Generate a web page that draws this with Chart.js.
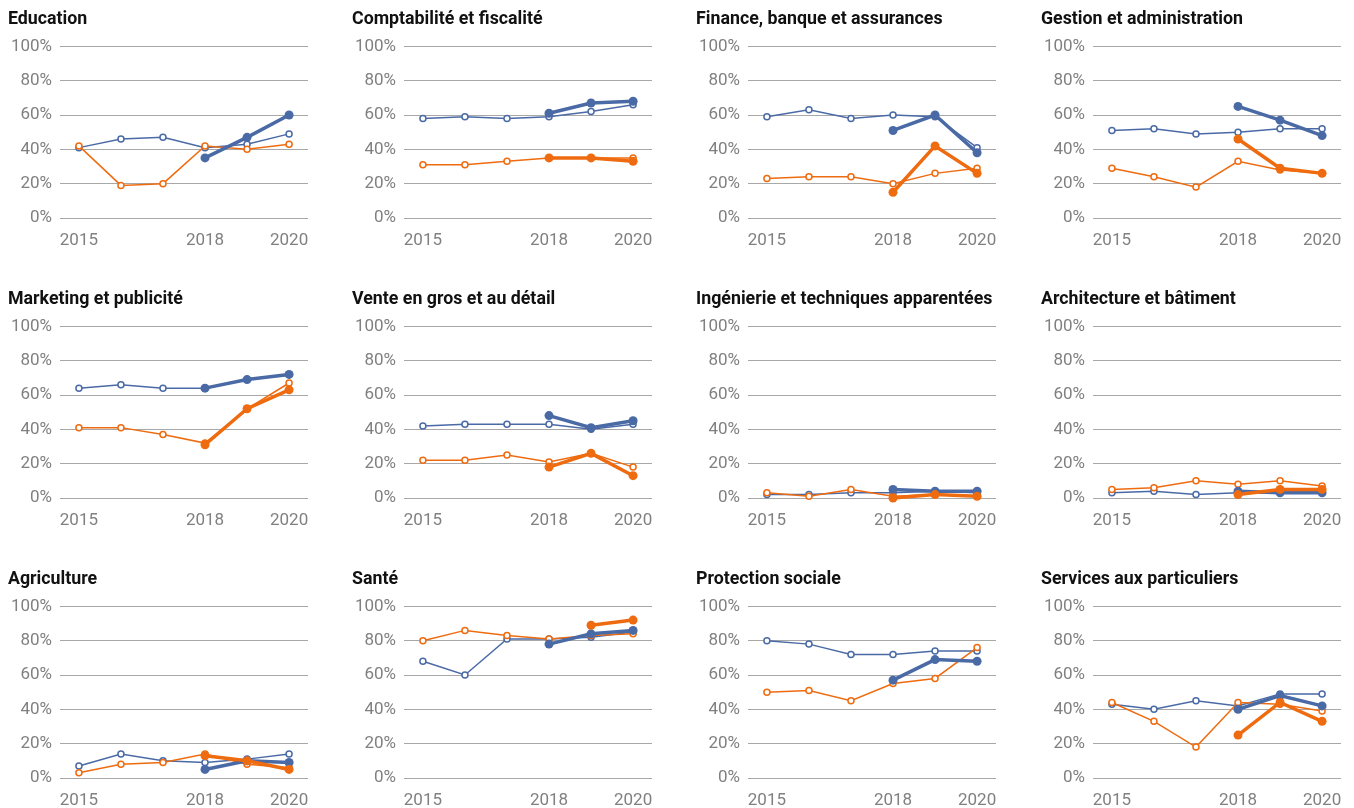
<!DOCTYPE html>
<html>
<head>
<meta charset="utf-8">
<script src="https://cdn.jsdelivr.net/npm/chart.js@4/dist/chart.umd.min.js"></script>
<style>
  html, body { margin: 0; padding: 0; background: #fff; width: 1354px; height: 808px; overflow: hidden; }
  canvas { position: absolute; }
</style>
</head>
<body>
<script>
const titles = [
  "Education", "Comptabilité et fiscalité", "Finance, banque et assurances", "Gestion et administration",
  "Marketing et publicité", "Vente en gros et au détail", "Ingénierie et techniques apparentées", "Architecture et bâtiment",
  "Agriculture", "Santé", "Protection sociale", "Services aux particuliers"
];
const years = [2015, 2016, 2017, 2018, 2019, 2020];
const tickYears = [2015, 2018, 2020];
const yTicks = [0, 20, 40, 60, 80, 100];

// thin series 2015-2020
const blueThin = [
  [41, 46, 47, 41, 43, 49],
  [58, 59, 58, 59, 62, 66],
  [59, 63, 58, 60, 59, 41],
  [51, 52, 49, 50, 52, 52],
  [64, 66, 64, 64, 69, 72],
  [42, 43, 43, 43, 40, 43],
  [2, 2, 3, 3, 4, 3],
  [3, 4, 2, 3, 3, 3],
  [7, 14, 10, 9, 11, 14],
  [68, 60, 81, 81, 82, 85],
  [80, 78, 72, 72, 74, 74],
  [43, 40, 45, 42, 49, 49]
];
const orangeThin = [
  [42, 19, 20, 42, 40, 43],
  [31, 31, 33, 35, 35, 35],
  [23, 24, 24, 20, 26, 29],
  [29, 24, 18, 33, 28, 26],
  [41, 41, 37, 32, 52, 67],
  [22, 22, 25, 21, 26, 18],
  [3, 1, 5, 1, 2, 1],
  [5, 6, 10, 8, 10, 7],
  [3, 8, 9, 14, 8, 6],
  [80, 86, 83, 81, 83, 84],
  [50, 51, 45, 55, 58, 76],
  [44, 33, 18, 44, 43, 39]
];
// thick series 2018-2020
const blueThick = [
  [35, 47, 60],
  [61, 67, 68],
  [51, 60, 38],
  [65, 57, 48],
  [64, 69, 72],
  [48, 41, 45],
  [5, 4, 4],
  [4, 3, 3],
  [5, 10, 9],
  [78, 84, 86],
  [57, 69, 68],
  [40, 48, 42]
];
const orangeThick = [
  [null, null, null],
  [35, 35, 33],
  [15, 42, 26],
  [46, 29, 26],
  [31, 52, 63],
  [18, 26, 13],
  [0, 2, 1],
  [2, 5, 5],
  [13, 10, 5],
  [null, 89, 92],
  [null, null, null],
  [25, 44, 33]
];
const thickYears = [2018, 2019, 2020];

const BLUE = '#4a6aa6';
const ORANGE = '#ef6b10';

function pts(xs, ys) { return xs.map((x, i) => ({ x: x, y: ys[i] })); }

const W = 344, H = 248;
const colLeft = [0, 344, 688, 1033];
const rowTop = [1, 281, 561];

titles.forEach((t, i) => {
  const c = document.createElement('canvas');
  c.width = W; c.height = H;
  c.style.left = colLeft[i % 4] + 'px';
  c.style.top = rowTop[Math.floor(i / 4)] + 'px';
  c.style.width = W + 'px'; c.style.height = H + 'px';
  document.body.appendChild(c);

  const thin = (label, data, color) => ({
    label, data: pts(years, data), borderColor: color, backgroundColor: '#fff',
    borderWidth: 1.5, pointRadius: 3, pointBorderWidth: 1.5, pointBackgroundColor: '#fff',
    pointBorderColor: color, clip: false, tension: 0, spanGaps: false
  });
  const thick = (label, data, color) => ({
    label, data: pts(thickYears, data), borderColor: color, backgroundColor: color,
    borderWidth: 3.5, pointRadius: 4.5, pointBorderWidth: 0, pointBackgroundColor: color,
    clip: false, tension: 0, spanGaps: false
  });

  new Chart(c, {
    type: 'line',
    data: {
      datasets: [
        thick('orangeThick', orangeThick[i], ORANGE),
        thick('blueThick', blueThick[i], BLUE),
        thin('orangeThin', orangeThin[i], ORANGE),
        thin('blueThin', blueThin[i], BLUE)
      ]
    },
    options: {
      responsive: false,
      animation: false,
      devicePixelRatio: 1,
      layout: { padding: { left: 8, right: 36, top: 0, bottom: 0 } },
      plugins: {
        legend: { display: false },
        tooltip: { enabled: false },
        title: {
          display: true, text: t, align: 'start', color: '#111',
          font: { family: 'Roboto', size: 17.8, weight: 'bold', lineHeight: 1.2 },
          padding: { top: 8, bottom: 16 }
        }
      },
      scales: {
        x: {
          type: 'linear', min: 2014.55, max: 2020.45,
          grid: { display: false, drawTicks: false },
          border: { display: false },
          afterBuildTicks: s => { s.ticks = tickYears.map(v => ({ value: v })); },
          afterFit: s => { s.height = 31; },
          ticks: {
            color: '#808080', padding: 12.5, maxRotation: 0, autoSkip: false,
            font: { family: 'Roboto', size: 17 },
            callback: v => String(v)
          }
        },
        y: {
          min: 0, max: 100,
          grid: { color: '#a8a8a8', lineWidth: 1, drawTicks: false },
          border: { display: false },
          afterBuildTicks: s => { s.ticks = yTicks.map(v => ({ value: v })); },
          afterFit: s => { s.width = 52; },
          ticks: {
            color: '#808080', padding: 8,
            font: { family: 'Roboto', size: 17 },
            callback: v => v + '%'
          }
        }
      }
    }
  });
});
</script>
</body>
</html>
